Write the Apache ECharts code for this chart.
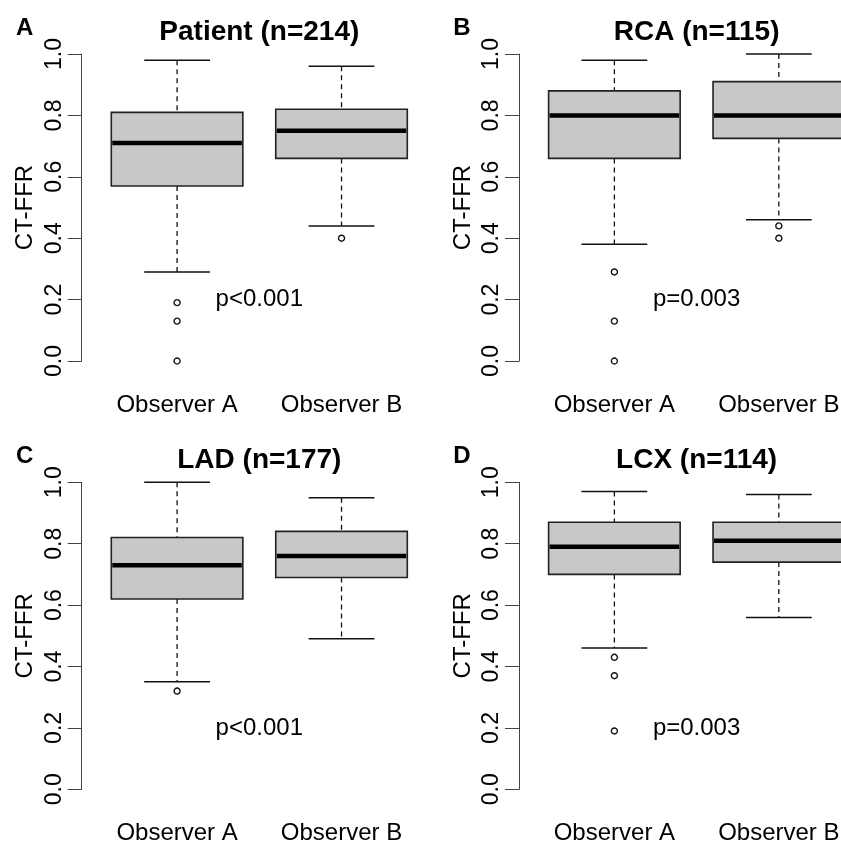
<!DOCTYPE html>
<html lang="en">
<head>
    <meta charset="UTF-8">
    <title>CT-FFR Observer A vs B</title>
    <style>
        html, body { margin: 0; padding: 0; background: #fff; }
        #main { width: 841px; height: 841px; }
    </style>
</head>
<body>
<div id="main"></div>
<script src="https://cdn.jsdelivr.net/npm/echarts@6/dist/echarts.min.js"></script>
<script type="text/javascript">
    // data: [low whisker, Q1, median, Q3, high whisker]
    var categories = ['Observer A', 'Observer B'];
    var panelLetters = ['A', 'B', 'C', 'D'];
    var panelTitles = ['Patient (n=214)', 'RCA (n=115)', 'LAD (n=177)', 'LCX (n=114)'];
    var pValues = ['p<0.001', 'p=0.003', 'p<0.001', 'p=0.003'];
    var yTicks = [0, 0.2, 0.4, 0.6, 0.8, 1.0];

    var patientA = [0.29, 0.57, 0.71, 0.81, 0.98];
    var patientB = [0.44, 0.66, 0.75, 0.82, 0.96];
    var patientOutA = [0.19, 0.13, 0.00];
    var patientOutB = [0.40];

    var rcaA = [0.38, 0.66, 0.80, 0.88, 0.98];
    var rcaB = [0.46, 0.725, 0.80, 0.91, 1.00];
    var rcaOutA = [0.29, 0.13, 0.00];
    var rcaOutB = [0.44, 0.40];

    var ladA = [0.35, 0.62, 0.73, 0.82, 1.00];
    var ladB = [0.49, 0.69, 0.76, 0.84, 0.95];
    var ladOutA = [0.32];
    var ladOutB = [];

    var lcxA = [0.46, 0.70, 0.79, 0.87, 0.97];
    var lcxB = [0.56, 0.74, 0.81, 0.87, 0.96];
    var lcxOutA = [0.43, 0.37, 0.19];
    var lcxOutB = [];

    var stats = [[patientA, patientB], [rcaA, rcaB], [ladA, ladB], [lcxA, lcxB]];
    var outliers = [[patientOutA, patientOutB], [rcaOutA, rcaOutB], [ladOutA, ladOutB], [lcxOutA, lcxOutB]];

    var FONT = '"Liberation Sans", Arial, Helvetica, sans-serif';

    // panel layout (pixels)
    var lefts = [81.7, 519, 81.7, 519];
    var tops = [54, 54, 482.3, 482.3];
    var plotW = 355.2, plotH = 307;

    var myChart = echarts.init(document.getElementById('main'));

    function renderBox(params, api) {
        var x = api.value(0);
        var lo = api.value(1), q1 = api.value(2), med = api.value(3), q3 = api.value(4), hi = api.value(5);
        var tl = api.coord([x - 0.4, q3]);
        var br = api.coord([x + 0.4, q1]);
        var cx = api.coord([x, med])[0];
        var yMed = api.coord([x, med])[1];
        var yHi = api.coord([x, hi])[1];
        var yLo = api.coord([x, lo])[1];
        var capL = api.coord([x - 0.2, hi])[0];
        var capR = api.coord([x + 0.2, hi])[0];
        var dashed = { stroke: '#111', lineWidth: 1.3, lineDash: [5, 4] };
        var solid = { stroke: '#111', lineWidth: 1.5 };
        return {
            type: 'group',
            children: [
                { type: 'line', shape: { x1: cx, y1: yHi, x2: cx, y2: tl[1] }, style: dashed },
                { type: 'line', shape: { x1: cx, y1: br[1], x2: cx, y2: yLo }, style: dashed },
                { type: 'line', shape: { x1: capL, y1: yHi, x2: capR, y2: yHi }, style: solid },
                { type: 'line', shape: { x1: capL, y1: yLo, x2: capR, y2: yLo }, style: solid },
                {
                    type: 'rect',
                    shape: { x: tl[0], y: tl[1], width: br[0] - tl[0], height: br[1] - tl[1] },
                    style: { fill: '#c8c8c8', stroke: '#222', lineWidth: 1.6 }
                },
                { type: 'line', shape: { x1: tl[0] + 1, y1: yMed, x2: br[0] - 1, y2: yMed }, style: { stroke: '#000', lineWidth: 4.5 } }
            ]
        };
    }

    var grids = [], xAxes = [], yAxes = [], series = [], graphics = [];
    for (var i = 0; i < 4; i++) {
        grids.push({ left: lefts[i], top: tops[i], width: plotW, height: plotH, outerBoundsMode: 'none', containLabel: false });
        xAxes.push({
            gridIndex: i, type: 'value', min: 0.42, max: 2.58,
            axisLine: { show: false }, axisTick: { show: false }, splitLine: { show: false },
            axisLabel: {
                customValues: [1, 2], margin: 32, fontSize: 24, color: '#000', fontFamily: FONT,
                formatter: function (v) { return categories[Math.round(v) - 1]; }
            }
        });
        yAxes.push({
            gridIndex: i, type: 'value', min: 0, max: 1, interval: 0.2,
            name: 'CT-FFR', nameLocation: 'middle', nameGap: 44,
            nameTextStyle: { fontSize: 24, color: '#000', fontFamily: FONT },
            axisLine: { show: true, lineStyle: { color: '#444', width: 1 } },
            axisTick: { show: true, length: 14, lineStyle: { color: '#444', width: 1 } },
            splitLine: { show: false },
            axisLabel: {
                rotate: 90, margin: 16, fontSize: 23, color: '#000', fontFamily: FONT,
                formatter: function (v) { return v.toFixed(1); }
            }
        });

        var boxData = [];
        var outData = [];
        for (var k = 0; k < 2; k++) {
            boxData.push([k + 1].concat(stats[i][k]));
            outliers[i][k].forEach(function (v) { outData.push([k + 1, v]); });
        }
        series.push({
            type: 'custom', xAxisIndex: i, yAxisIndex: i, clip: false,
            renderItem: renderBox,
            encode: { x: 0, y: [1, 2, 3, 4, 5] },
            data: boxData, silent: true
        });
        series.push({
            type: 'scatter', xAxisIndex: i, yAxisIndex: i, clip: false,
            symbol: 'circle', symbolSize: 6,
            itemStyle: { color: '#fff', borderColor: '#111', borderWidth: 1.4, opacity: 1 },
            data: outData, silent: true
        });
        series.push({
            type: 'scatter', xAxisIndex: i, yAxisIndex: i, clip: false,
            symbolSize: 0,
            itemStyle: { opacity: 1 },
            label: {
                show: true, position: 'inside', fontSize: 24, color: '#000', fontFamily: FONT,
                textBorderWidth: 0, formatter: pValues[i]
            },
            data: [[1.5, 0.2]], silent: true
        });

        graphics.push({
            type: 'text', x: lefts[i] + plotW / 2, y: tops[i] - 22,
            style: {
                text: panelTitles[i], font: 'bold 28px ' + FONT, fill: '#000',
                textAlign: 'center', textVerticalAlign: 'middle'
            }
        });
        graphics.push({
            type: 'text', x: lefts[i] - 57, y: tops[i] - 26,
            style: {
                text: panelLetters[i], font: 'bold 24px ' + FONT, fill: '#000',
                textAlign: 'center', textVerticalAlign: 'middle'
            }
        });
    }

    myChart.setOption({
        backgroundColor: '#fff',
        animation: false,
        grid: grids,
        xAxis: xAxes,
        yAxis: yAxes,
        series: series,
        graphic: graphics
    });
</script>
</body>
</html>
